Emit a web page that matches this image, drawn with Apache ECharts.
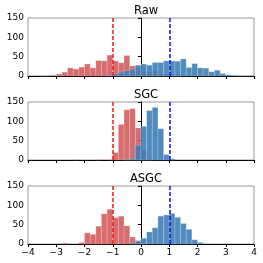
<!DOCTYPE html>
<html>
<head>
<meta charset="utf-8">
<script src="https://cdn.jsdelivr.net/npm/echarts@6/dist/echarts.min.js"></script>
<style>html,body{margin:0;padding:0;background:#fff}#c{width:263px;height:263px}</style>
</head>
<body>
<div id="c"></div>
<script>
// Histogram bin edges (41 edges, 40 bins of width 0.2 from -4 to 4)
const binEdges = [-4.0,-3.8,-3.6,-3.4,-3.2,-3.0,-2.8,-2.6,-2.4,-2.2,-2.0,-1.8,-1.6,-1.4,-1.2,-1.0,-0.8,-0.6,-0.4,-0.2,
  0.0,0.2,0.4,0.6,0.8,1.0,1.2,1.4,1.6,1.8,2.0,2.2,2.4,2.6,2.8,3.0,3.2,3.4,3.6,3.8,4.0];
const panelTitles = ['Raw', 'SGC', 'ASGC'];
const xTicks = [-4, -3, -2, -1, 0, 1, 2, 3, 4];
const yTicks = [0, 50, 100, 150];
const classMeans = [-1, 1];

// counts per bin (index i covers binEdges[i]..binEdges[i+1])
const rawRed  = [0,0,1,1,2,5,10,21,18,23,31,21,40,39,54,39,34,53,26,20,12,10,13,5,3,2,1,0,0,0,0,0,0,0,0,0,0,0,0,0];
const rawBlue = [0,0,0,0,0,0,0,0,0,0,0,0,0,0,2,6,10,14,17,28,31,28,35,35,39,39,38,44,22,32,21,20,11,15,6,3,2,1,1,1];
const sgcRed  = [0,0,0,0,0,0,0,0,1,0,0,0,1,0,1,19,92,130,133,83,25,3,0,0,0,0,0,0,0,0,0,0,0,0,0,0,0,0,0,0];
const sgcBlue = [0,0,0,0,0,0,0,0,0,0,0,0,0,0,0,0,0,2,3,38,87,128,136,81,14,3,0,0,0,0,0,0,0,0,0,0,0,0,0,0];
const asgcRed = [0,0,0,0,0,0,2,0,0,4,29,25,46,78,90,68,72,47,18,9,2,0,0,0,0,0,0,0,0,0,0,0,0,0,0,0,0,0,0,0];
const asgcBlue= [0,0,0,0,0,0,0,0,0,0,0,0,0,0,0,0,0,0,3,7,15,31,42,72,75,79,69,53,38,11,4,0,0,0,0,0,0,0,0,0];

const panels = [[rawRed, rawBlue], [sgcRed, sgcBlue], [asgcRed, asgcBlue]];
const redColor = 'rgba(208,88,90,0.88)';
const blueColor = 'rgba(62,126,182,0.9)';

function toBins(counts) {
  const out = [];
  counts.forEach((c, i) => { if (c > 0) out.push([binEdges[i], binEdges[i + 1], c]); });
  return out;
}
function renderBar(params, api) {
  const p0 = api.coord([api.value(0), api.value(2)]);
  const p1 = api.coord([api.value(1), 0]);
  return { type: 'rect', shape: { x: p0[0], y: p0[1], width: p1[0] - p0[0], height: p1[1] - p0[1] }, style: api.style() };
}

const font = 'DejaVu Sans';
const gridTops = [18, 102, 186];
const grids = [], xAxes = [], yAxes = [], series = [], titles = [];
gridTops.forEach((t, k) => {
  grids.push({ left: 28, right: 9, top: t, height: 58, show: true, borderColor: '#999', borderWidth: 1, backgroundColor: 'transparent' });
  titles.push({ text: panelTitles[k], left: 141, top: t - 18, textAlign: 'center',
    textStyle: { fontFamily: font, fontSize: 11.5, fontWeight: 'normal', color: '#000' } });
  xAxes.push({ type: 'value', gridIndex: k, min: xTicks[0], max: xTicks[xTicks.length - 1], interval: 1,
    axisLine: { show: true, onZero: false, lineStyle: { color: '#000', width: 1 } },
    axisTick: { show: true, length: 3, lineStyle: { color: '#000' } },
    splitLine: { show: false },
    axisLabel: { show: k === 2, fontFamily: font, fontSize: 9, color: '#000', margin: 4,
      formatter: v => (v < 0 ? '\u2212' + Math.abs(v) : String(v)) } });
  yAxes.push({ type: 'value', gridIndex: k, min: yTicks[0], max: yTicks[yTicks.length - 1], interval: 50,
    axisLine: { show: true, lineStyle: { color: '#000', width: 1 } },
    axisTick: { show: true, length: 3, lineStyle: { color: '#000' } },
    splitLine: { show: false },
    axisLabel: { fontFamily: font, fontSize: 9, color: '#000', margin: 4 } });
  const [red, blue] = panels[k];
  series.push({ type: 'custom', xAxisIndex: k, yAxisIndex: k, renderItem: renderBar,
    encode: { x: [0, 1], y: 2 }, data: toBins(red),
    itemStyle: { color: redColor, borderColor: 'rgba(255,255,255,0.35)', borderWidth: 0.5 }, silent: true });
  series.push({ type: 'custom', xAxisIndex: k, yAxisIndex: k, renderItem: renderBar,
    encode: { x: [0, 1], y: 2 }, data: toBins(blue),
    itemStyle: { color: blueColor, borderColor: 'rgba(255,255,255,0.35)', borderWidth: 0.5 }, silent: true,
    markLine: { silent: true, symbol: 'none', label: { show: false }, animation: false, z: 10,
      emphasis: { disabled: true },
      data: [
        { xAxis: classMeans[0], lineStyle: { color: '#ff1010', type: [4, 2], width: 1.5, opacity: 1 } },
        { xAxis: classMeans[1], lineStyle: { color: '#1010ff', type: [4, 2], width: 1.5, opacity: 1 } }
      ] } });
});

const chart = echarts.init(document.getElementById('c'), null, { renderer: 'canvas' });
chart.setOption({ animation: false, title: titles, grid: grids, xAxis: xAxes, yAxis: yAxes, series: series });
</script>
</body>
</html>
